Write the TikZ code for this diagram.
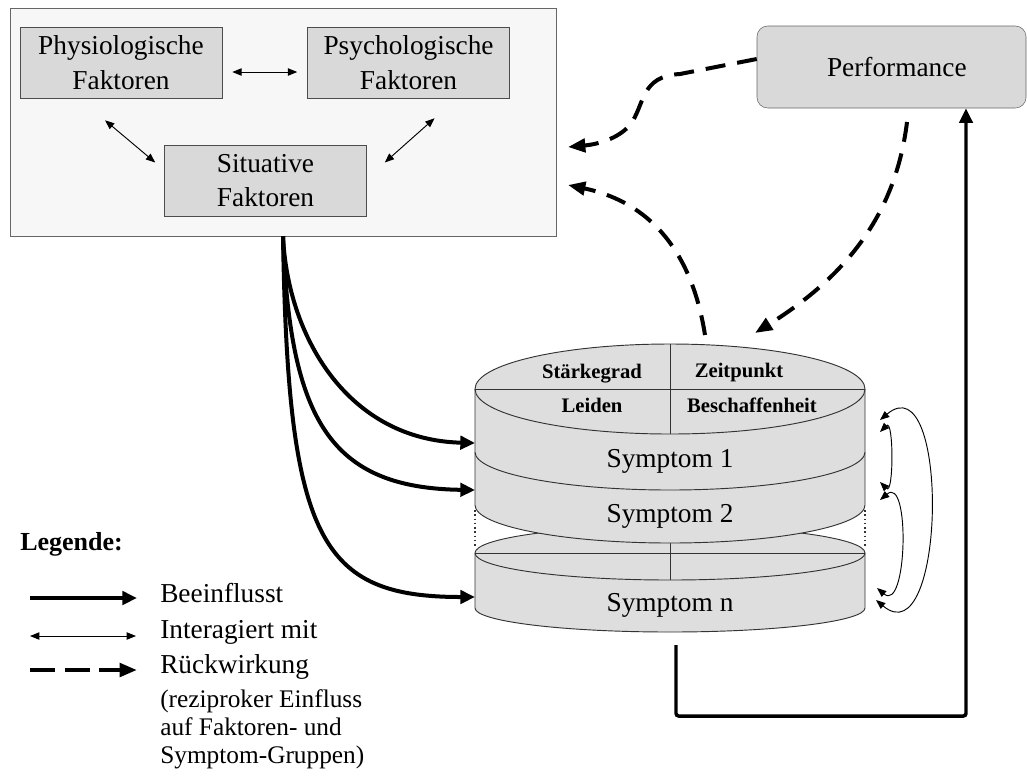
\documentclass[tikz,border=0pt]{standalone}
\usepackage{fontspec}
\setmainfont{Liberation Serif}
\usetikzlibrary{arrows.meta,positioning,calc}
\definecolor{boxgray}{HTML}{D9D9D9}
\definecolor{cylgray}{HTML}{DEDEDE}

\begin{document}
\begin{tikzpicture}[x=0.75pt, y=-0.75pt,
  font=\fontsize{20.5}{26}\selectfont,
  group/.style={draw=black!60, fill=black!3, minimum width=409.5pt, minimum height=171pt, inner sep=0pt},
  factor/.style={draw=black!70, fill=boxgray, align=center, minimum width=151.5pt,
    minimum height=53.25pt, inner sep=0pt},
  perfbox/.style={draw=black!60, fill=boxgray, rounded corners=8pt, minimum width=201.75pt,
    minimum height=61.5pt},
  cyl/.style={fill=cylgray},
  cylline/.style={draw=black!80, line width=0.7pt},
  lbl/.style={font=\fontsize{15.5}{18}\selectfont\bfseries},
  infl/.style={line width=3pt, -{Triangle[length=11pt,width=10pt]}},
  inter/.style={line width=0.7pt, {Triangle[length=7pt,width=5.5pt]}-{Triangle[length=7pt,width=5.5pt]}},
  fb/.style={line width=3pt, dash pattern=on 15pt off 9pt, -{Triangle[length=13pt,width=10pt]}},
  leg/.style={anchor=base west, inner sep=0pt}
]
\useasboundingbox (0,0) rectangle (1027,776);

% factor group
\node[group] (grp) at (283,122) {};
\node[factor] (phys) at (121,62.5) {Physiologische\\Faktoren};
\node[factor, right=63.75pt of phys] (psych) {Psychologische\\Faktoren};
\node[factor] (sit) at (265.5,180.5) {Situative\\Faktoren};

\draw[inter] ([shift={(10,9.5)}]phys.east) -- ([shift={(-10,9.5)}]psych.west);
\draw[inter] ([shift={(-16,22)}]phys.south) -- ([shift={(-9,-18)}]sit.west);
\draw[inter] ([shift={(26,20)}]psych.south) -- ([shift={(18,-18)}]sit.east);

\node[perfbox] (perf) at (891.5,67) {\hspace*{8pt}Performance};

% symptom n
\fill[cyl] (475,553) -- (475,608) arc[start angle=180, end angle=0, x radius=195, y radius=24] -- (865,553) -- cycle;
\path[cylline] (475,553) -- (475,608) arc[start angle=180, end angle=0, x radius=195, y radius=24] -- (865,553);
\path[cyl, cylline] (670,553) ellipse[x radius=195, y radius=27];
\path[cylline] (475,553) -- (865,553) (670,526) -- (670,580);

% symptom 2
\fill[cyl] (475,452) -- (475,505) arc[start angle=180, end angle=0, x radius=195, y radius=38] -- (865,452) -- cycle;
\path[cylline] (475,452) -- (475,505) arc[start angle=180, end angle=0, x radius=195, y radius=38] -- (865,452);
\draw[black!80, dotted, line width=1.2pt] (475,510) -- (475,546) (865,510) -- (865,546);

% symptom 1
\fill[cyl] (475,389) -- (475,452) arc[start angle=180, end angle=0, x radius=195, y radius=38] -- (865,389) -- cycle;
\path[cylline] (475,389) -- (475,452) arc[start angle=180, end angle=0, x radius=195, y radius=38] -- (865,389);
\path[cyl, cylline] (670,389) ellipse[x radius=195, y radius=45];
\path[cylline] (475,389) -- (865,389) (670,344) -- (670,434);

\node[lbl] (staerke) at (592,374) {Stärkegrad};
\node[lbl] (zeit) at (739,373) {Zeitpunkt};
\node[lbl] (leiden) at (592,405) {Leiden};
\node[lbl] (beschaff) at (752,405) {Beschaffenheit};
\node (sym1) at (670,461) {Symptom 1};
\node (sym2) at (670,516) {Symptom 2};
\node (symn) at (670,605) {Symptom n};

% beeinflusst
\coordinate (s1in) at (475,443);
\coordinate (s2in) at (475,490);
\coordinate (snin) at (475,597);
\draw[infl] (grp.south) .. controls (288,340) and (350,440) .. (s1in);
\draw[infl] (grp.south) .. controls (290,420) and (330,488) .. (s2in);
\draw[infl] (grp.south) .. controls (288,540) and (320,597) .. (snin);

% rueckwirkung
\coordinate (grpA) at (568,147);
\coordinate (grpB) at (568,185);
\coordinate (cyltop) at (705,335);
\coordinate (perfout) at (907,122);
\coordinate (cylin) at (755,333);
\draw[fb] ([yshift=6]perf.west) -- (680,74) .. controls (640,76) and (645,105) .. (630,125)
  .. controls (615,142) and (590,145) .. (grpA);
\draw[fb] (cyltop) .. controls (690,240) and (640,200) .. (grpB);
\draw[fb] (perfout) .. controls (895,220) and (840,280) .. (cylin);

% symptom -> performance
\coordinate (fbstart) at (676,645);
\coordinate (fbcorner) at (966,716);
\draw[line width=2.6pt, rounded corners=2pt, -{Triangle[length=11pt,width=10pt]}] (fbstart) |- (fbcorner) -- (fbcorner |- perf.south);

% interaktion der symptome
\coordinate (r1a) at (880,432);
\coordinate (r1b) at (880,482);
\coordinate (r2a) at (880,500);
\coordinate (r2b) at (877,588);
\coordinate (r3a) at (880,420);
\coordinate (r3b) at (876,600);
\draw[inter] (r1a) to[out=45, in=-45] (r1b);
\draw[inter] (r2a) to[out=40, in=-40, looseness=1.15] (r2b);
\draw[inter] (r3a) to[out=40, in=-40, looseness=1.3] (r3b);

% legende
\node[leg, font=\fontsize{19.5}{22}\selectfont\bfseries] (legtitle) at (20,550) {Legende:};
\node[leg] (lgA) at (160,602) {Beeinflusst};
\node[leg] (lgB) at (160,638) {Interagiert mit};
\node[leg] (lgC) at (160,673) {Rückwirkung};
\node[leg, font=\fontsize{19}{21}\selectfont] (lgD1) at (160,707) {(reziproker Einfluss};
\node[leg, font=\fontsize{19}{21}\selectfont] (lgD2) at (160,735) {auf Faktoren- und};
\node[leg, font=\fontsize{19}{21}\selectfont] (lgD3) at (160,763) {Symptom-Gruppen)};

\coordinate (la0) at (30,598);
\coordinate (la1) at (137,598);
\coordinate (lb0) at (30,636);
\coordinate (lb1) at (136,636);
\coordinate (lc0) at (30,670);
\coordinate (lc1) at (137,670);
\draw[infl] (la0) -- (la1);
\draw[inter] (lb0) -- (lb1);
\draw[fb, dash pattern=on 19pt off 7pt] (lc0) -- (lc1);
\end{tikzpicture}
\end{document}
